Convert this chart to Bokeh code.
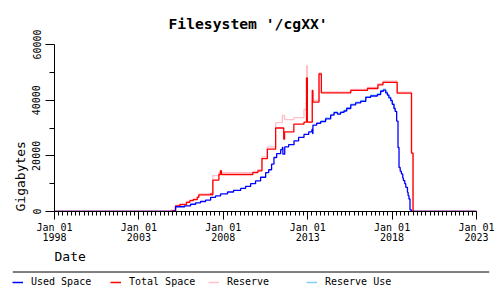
import numpy as np
from bokeh.plotting import figure
from bokeh.layouts import column
from bokeh.models import (Range1d, FixedTicker, Legend, LegendItem, Title, Span,
                          NumeralTickFormatter)
from bokeh.embed import file_html
from bokeh.resources import INLINE

# ---------------- data (decimal years, gigabytes) ----------------
title_text = "Filesystem '/cgXX'"
y_title = "Gigabytes"
x_title = "Date"
series_names = ["Used Space", "Total Space", "Reserve", "Reserve Use"]
series_colors = ["#0000FF", "#FF0000", "#FFC0CB", "#87CEFA"]

year_ticks = [1998, 2003, 2008, 2013, 2018, 2023]
year_labels = ["Jan 01\n1998", "Jan 01\n2003", "Jan 01\n2008",
               "Jan 01\n2013", "Jan 01\n2018", "Jan 01\n2023"]
gb_ticks = [0, 20000, 40000, 60000]
gb_minor = [10000, 30000, 50000]

used_years = [1998.0, 2005.17, 2005.71, 2006.06, 2006.36, 2006.65, 2006.95, 2007.25,
              2007.54, 2007.84, 2008.25, 2008.61, 2009.03, 2009.32, 2009.62, 2009.91,
              2010.21, 2010.51, 2010.69, 2010.86, 2011.00, 2011.16, 2011.40, 2011.50,
              2011.53, 2011.64, 2011.87, 2012.19, 2012.46, 2012.78, 2013.06, 2013.25,
              2013.29, 2013.31, 2013.53, 2013.77, 2014.06, 2014.36, 2014.56, 2014.76,
              2014.95, 2015.15, 2015.31, 2015.55, 2015.84, 2016.14, 2016.44, 2016.73,
              2017.13, 2017.32, 2017.48, 2017.62, 2017.72, 2017.81, 2017.92, 2018.01,
              2018.11, 2018.18, 2018.27, 2018.35, 2018.41, 2018.48, 2018.55, 2018.63,
              2018.67, 2018.75, 2018.81, 2018.91, 2018.95, 2019.00, 2019.06, 2019.14,
              2023.0]
used_gb = [0, 1700, 2000, 2600, 3100, 3600, 4100, 5100,
           5600, 6300, 7000, 7600, 8300, 9000, 10000, 11000,
           12300, 14000, 15000, 17000, 19400, 20800, 22200, 23000,
           20600, 23200, 24000, 25400, 26600, 27700, 28600, 29500,
           28000, 31000, 31700, 32300, 33300, 34600, 35500, 35000,
           35600, 36100, 37000, 38300, 39000, 39600, 41000, 41500,
           42000, 43200, 43600, 42600, 41800, 40800, 39800, 38500,
           37000, 36000, 32500, 23000, 15800, 14500, 13500, 12000,
           11100, 10000, 8700, 6900, 5700, 4500, 600, 0,
           0]

total_years = [1998.0, 2004.98, 2005.17, 2005.43, 2005.82, 2006.02, 2006.22, 2006.46,
               2006.55, 2007.25, 2007.31, 2007.38, 2007.74, 2007.83, 2007.89, 2009.75,
               2010.05, 2010.29, 2010.61, 2011.10, 2011.58, 2011.63, 2012.18, 2012.78,
               2012.93, 2012.98, 2013.27, 2013.31, 2013.67, 2013.81, 2015.55, 2016.54,
               2017.16, 2017.46, 2018.30, 2019.15, 2019.24, 2023.0]
total_gb = [0, 300, 2000, 2500, 3300, 3900, 4300, 5100,
            6000, 6300, 6000, 11300, 13300, 14600, 13300, 14000,
            14600, 19000, 22400, 30000, 26000, 28600, 31400, 32100,
            48000, 32100, 43500, 39300, 49400, 42600, 43500, 44200,
            45500, 46400, 42500, 21000, 0, 0]

reserve_years = [1998.0, 2004.90, 2005.17, 2005.43, 2005.82, 2006.02, 2006.22, 2006.46,
                 2006.55, 2007.25, 2007.38, 2007.74, 2007.83, 2007.89, 2009.75, 2010.05,
                 2010.29, 2010.61, 2011.10, 2011.50, 2011.63, 2012.18, 2012.78, 2012.93,
                 2012.98, 2013.27, 2013.67, 2013.81, 2015.55, 2016.54, 2017.16, 2017.46,
                 2018.30, 2019.15, 2019.24, 2023.0]
reserve_gb = [0, 500, 2300, 2800, 3600, 4200, 4600, 5400,
              6300, 6600, 12900, 14000, 14900, 14000, 14400, 15000,
              19600, 23200, 31900, 34500, 33000, 33700, 36700, 52400,
              32100, 39900, 49800, 43000, 43900, 44600, 45900, 46800,
              42900, 21000, 0, 0]

reserve_use_years = [2013.77, 2014.06, 2014.36, 2014.56, 2014.76, 2014.95, 2015.15, 2015.31,
                     2015.55, 2015.84, 2016.14, 2016.44, 2016.73, 2017.13, 2017.32, 2017.48,
                     2017.62, 2017.72, 2017.81, 2017.92, 2018.01, 2018.11, 2018.18]
reserve_use_gb = [32600, 33600, 34900, 35800, 35300, 35900, 36400, 37300,
                  38600, 39300, 39900, 41300, 41800, 42300, 43500, 44000,
                  43000, 42100, 41100, 40100, 38800, 37300, 36300]

series = [(used_years, used_gb), (total_years, total_gb),
          (reserve_years, reserve_gb), (reserve_use_years, reserve_use_gb)]

FONT = "DejaVu Sans Mono"
LW = 1.3

# ---------------- main chart ----------------
A = figure(width=500, height=264, output_backend="svg", toolbar_location=None,
           x_range=Range1d(1998, 2023), y_range=Range1d(0, 60000),
           min_border_left=54, min_border_right=24, min_border_top=43,
           min_border_bottom=53)
A.outline_line_color = None
A.xgrid.visible = False
A.ygrid.visible = False
A.background_fill_color = "white"
A.border_fill_color = "white"

A.title.text = title_text
A.title.align = "left"
A.title.offset = 114
A.title.standoff = 25
A.title.text_font = FONT
A.title.text_font_size = "14.7px"
A.title.text_font_style = "bold"
A.title.text_color = "black"

minor_q = [float(v) for v in np.arange(1998, 2023.001, 0.25)]
xa = A.xaxis[0]
xa.ticker = FixedTicker(ticks=year_ticks, minor_ticks=minor_q)
xa.major_label_overrides = {t: l for t, l in zip(year_ticks, year_labels)}
xa.major_tick_out = 8
xa.major_tick_in = 0
xa.minor_tick_out = 4
xa.minor_tick_in = 0
xa.major_label_standoff = 2
xa.major_label_text_font = FONT
xa.major_label_text_font_size = "10px"
xa.major_label_text_line_height = 0.95
xa.major_label_text_color = "black"
xa.axis_line_color = "black"

ya = A.yaxis[0]
ya.ticker = FixedTicker(ticks=gb_ticks, minor_ticks=gb_minor)
ya.formatter = NumeralTickFormatter(format="0")
ya.major_tick_out = 9
ya.major_tick_in = 0
ya.minor_tick_out = 5
ya.minor_tick_in = 0
ya.major_label_orientation = "vertical"
ya.major_label_standoff = 5
ya.major_label_text_font = FONT
ya.major_label_text_font_size = "10px"
ya.major_label_text_color = "black"
ya.axis_line_color = "black"

A.add_layout(Title(text=y_title, align="left", standoff=4, text_font=FONT,
                   text_font_size="13px", text_font_style="normal",
                   text_color="black"), "left")
A.add_layout(Title(text=x_title, align="left", standoff=2, text_font=FONT,
                   text_font_size="13px", text_font_style="normal",
                   text_color="black"), "below")

draw_order = [2, 1, 3, 0]
for i in draw_order:
    xs, ys = series[i]
    A.step(xs, ys, mode="after", line_color=series_colors[i], line_width=LW)

# ---------------- legend strip (separator rule + legend) ----------------
# y range in pixel rows of this strip (top = 0)
B = figure(width=500, height=36, output_backend="svg", toolbar_location=None,
           x_range=Range1d(0, 1), y_range=Range1d(36, 0),
           x_axis_location=None, y_axis_location=None,
           min_border_left=12, min_border_right=11, min_border_top=0,
           min_border_bottom=0)
B.outline_line_color = None
B.xgrid.visible = False
B.ygrid.visible = False
B.background_fill_color = "white"
B.border_fill_color = "white"
B.title.visible = False
B.add_layout(Span(location=7.5, dimension="width", line_color="black", line_width=1))

items = []
for i in range(4):
    xs, ys = series[i]
    r = B.step(xs, ys, mode="after", line_color=series_colors[i], line_width=1.5)
    items.append(LegendItem(label=series_names[i], renderers=[r]))

leg = Legend(items=items, location=(0, 13), orientation="horizontal",
             padding=0, margin=0, spacing=0, glyph_width=11, glyph_height=10,
             label_height=10, label_width=79, label_standoff=8,
             label_text_font=FONT, label_text_font_size="10px",
             label_text_color="black", border_line_color=None,
             background_fill_alpha=0)
B.add_layout(leg)

layout = column(A, column(B, spacing=0), spacing=0)
open("out.html", "w").write(file_html(layout, INLINE))
